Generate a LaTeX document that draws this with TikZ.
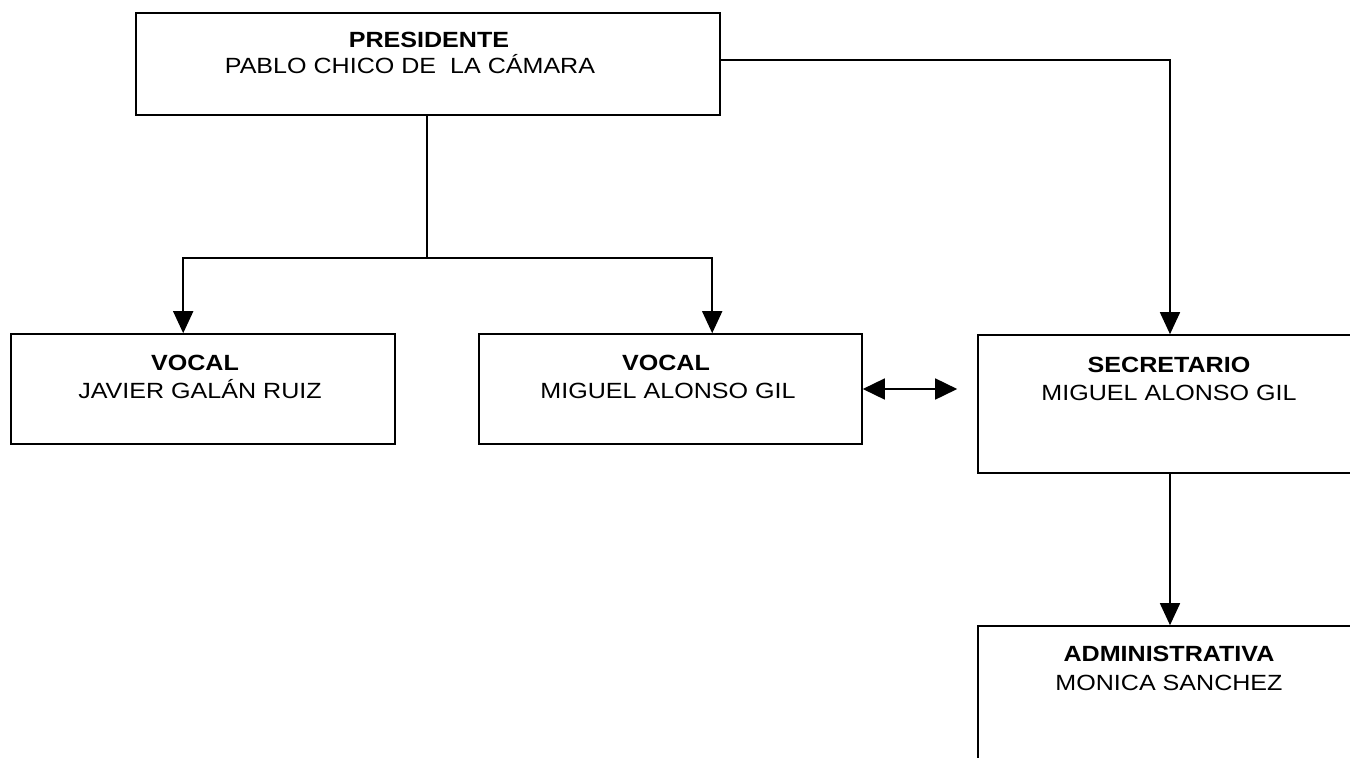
\documentclass[tikz,border=0pt]{standalone}
\usepackage{fontspec}
\setmainfont{Liberation Sans}[FakeStretch=1.14]
\usetikzlibrary{arrows.meta}
\begin{document}
\begin{tikzpicture}[x=1pt,y=-1pt,
  box/.style={draw=black,line width=1.6pt,rectangle,inner sep=0pt},
  ttl/.style={anchor=base,inner sep=0pt,font=\fontsize{22}{26}\selectfont\bfseries},
  nme/.style={anchor=base,inner sep=0pt,font=\fontsize{22}{26}\selectfont},
  conn/.style={line width=1.6pt},
  arr/.style={conn,-{Triangle[width=20pt,length=22pt]}},
  darr/.style={conn,{Triangle[width=21pt,length=22pt]}-{Triangle[width=21pt,length=22pt]}}]
\useasboundingbox (0,0) rectangle (1350,758);
\clip (0,0) rectangle (1350,758);
\node[box,minimum width=584pt,minimum height=102pt] (pres) at (428,64) {};
\node[box,minimum width=384pt,minimum height=110pt] (v1) at (203,389) {};
\node[box,minimum width=383pt,minimum height=110pt] (v2) at (670.5,389) {};
\node[box,minimum width=384pt,minimum height=138pt] (sec) at (1170,404) {};
\node[box,minimum width=384pt,minimum height=150pt] (adm) at (1170,701) {};
\node[ttl] (presT) at (429,47) {PRESIDENTE};
\node[nme] (presN) at (410,73) {PABLO CHICO DE\ \ LA CÁMARA};
\node[ttl] (v1T) at (195,370) {VOCAL};
\node[nme] (v1N) at (200,398) {JAVIER GALÁN RUIZ};
\node[ttl] (v2T) at (666,370) {VOCAL};
\node[nme] (v2N) at (668,398) {MIGUEL ALONSO GIL};
\node[ttl] (secT) at (1169,372) {SECRETARIO};
\node[nme] (secN) at (1169,400) {MIGUEL ALONSO GIL};
\node[ttl] (admT) at (1169,661) {ADMINISTRATIVA};
\node[nme] (admN) at (1169,690) {MONICA SANCHEZ};
\coordinate (j) at (427,258);
\coordinate (v1in) at ([xshift=173pt]v1.north west);
\coordinate (v2in) at ([xshift=234pt]v2.north west);
\coordinate (dd) at ([xshift=-20pt]sec.west);
\coordinate (pe) at ([yshift=4pt]pres.east);
\draw[conn] (pres.south -| j) -- (j);
\draw[arr] (j) -| (v1in);
\draw[arr] (j) -| (v2in);
\draw[arr] (pe) -| (sec.north);
\draw[darr] (v2.east) -- (dd |- v2.east);
\draw[arr] (sec.south) -- (adm.north);
\end{tikzpicture}
\end{document}
